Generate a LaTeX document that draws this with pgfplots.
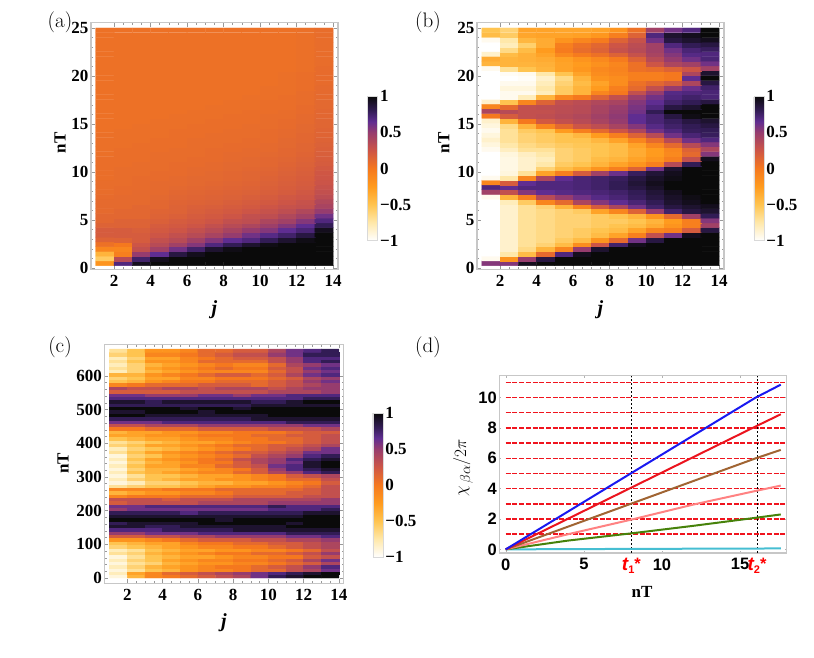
\documentclass[border=0pt]{standalone}
\usepackage{pgfplots}
\usepackage{fontspec}
\pgfplotsset{compat=1.18}
\newfontfamily\tfs{Liberation Serif}
\newfontfamily\tfa{Liberation Sans}
\newcommand{\bs}{\fontsize{17}{19}\selectfont\tfs\bfseries}
\newcommand{\ba}{\fontsize{16.5}{19}\selectfont\tfa\bfseries}
\pgfplotsset{
 hm/.style={scale only axis, clip=true,
  axis line style={draw=black!22,line width=1.1pt},
  tick style={draw=black!40,line width=0.5pt},
  tick align=inside, major tick length=4pt, minor tick length=2.2pt,
  xtick={2,4,6,8,10,12,14}, minor x tick num=3,
  tick label style={font=\bs},
  /pgf/number format/assume math mode=true,
  xticklabel style={yshift=-2pt},
  yticklabel style={xshift=1pt},
  label style={font=\fontsize{17}{19}\selectfont\tfs\bfseries},
  colormap={sunset}{rgb255(0pt)=(255,255,255); rgb255(25pt)=(255,232,170); rgb255(50pt)=(255,196,80); rgb255(75pt)=(255,155,30); rgb255(100pt)=(245,120,30); rgb255(125pt)=(205,85,70); rgb255(150pt)=(150,60,110); rgb255(165pt)=(95,45,145); rgb255(180pt)=(50,28,85); rgb255(200pt)=(10,10,10)},
  point meta min=-1, point meta max=1,
  colorbar,
 },
 cb/.style={colorbar style={scale only axis, width=10, height=144.5,
   at={(#1)}, anchor=south west,
   axis line style={draw=black!15,line width=0.5pt},
   ytick={-1,-0.5,0,0.5,1}, yticklabels={−1,−0.5,0,0.5,1},
   major tick length=0pt, xtick=\empty,
   yticklabel style={font=\bs,xshift=-1pt},
   /pgf/number format/assume math mode=true}},
 cell/.style={matrix plot*, mesh/cols=13, point meta=\thisrow{v}},
}
\begin{document}
\begin{tikzpicture}[x=1pt,y=1pt]
\path[use as bounding box] (0,0) rectangle (814,657);
% ---------- (a)
\begin{axis}[hm, cb={1.12,0.116}, at={(91pt,387.7pt)}, anchor=south west, width=247, height=246.6,
 xmin=0.74,xmax=14.27,ymin=-0.135,ymax=25.55, ytick={0,5,...,25}, minor y tick num=4,
 xlabel={\fontsize{20}{22}\selectfont\textit{j}}, ylabel={nT},
 xlabel style={at={(axis description cs:0.5,-0.165)},anchor=center},
 ylabel style={at={(axis description cs:-0.125,0.512)},anchor=center}]
\addplot[cell] table[row sep=\\, x expr={mod(\coordindex,13)+1.5}, y expr={0.25+0.495*(floor((\coordindex+0.5)/13)+0.5)}]{v\\
-.2\\.7\\.95\\1\\1\\1\\1\\1\\1\\1\\1\\1\\1\\
-.55\\.35\\.75\\.95\\1\\1\\1\\1\\1\\1\\1\\1\\1\\
-.4\\-.05\\.5\\.65\\.85\\.95\\1\\1\\1\\1\\1\\1\\1\\
-.1\\-.1\\.3\\.45\\.6\\.75\\.9\\.97\\1\\1\\1\\1\\1\\
.05\\0\\.25\\.35\\.45\\.55\\.7\\.8\\.9\\.97\\1\\1\\1\\
.15\\.15\\.2\\.3\\.35\\.45\\.55\\.65\\.7\\.8\\.9\\.97\\1\\
.2\\.2\\.2\\.25\\.3\\.35\\.42\\.5\\.6\\.68\\.75\\.85\\1\\
.2\\.2\\.18\\.22\\.25\\.3\\.35\\.42\\.5\\.55\\.65\\.72\\.95\\
.15\\.15\\.15\\.2\\.22\\.25\\.3\\.35\\.4\\.47\\.55\\.65\\.8\\
.12\\.15\\.15\\.17\\.2\\.22\\.25\\.3\\.32\\.4\\.45\\.55\\.7\\
.12\\.12\\.12\\.15\\.17\\.2\\.22\\.25\\.3\\.32\\.38\\.45\\.6\\
.1\\.12\\.12\\.14\\.15\\.18\\.2\\.22\\.25\\.28\\.32\\.38\\.5\\
.1\\.1\\.12\\.12\\.15\\.17\\.18\\.2\\.22\\.25\\.28\\.3\\.42\\
.1\\.1\\.1\\.12\\.14\\.15\\.16\\.18\\.2\\.22\\.25\\.28\\.38\\
.09\\.1\\.1\\.11\\.13\\.14\\.15\\.16\\.18\\.2\\.23\\.25\\.33\\
.08\\.09\\.1\\.1\\.12\\.13\\.14\\.15\\.16\\.18\\.2\\.23\\.3\\
.08\\.09\\.09\\.1\\.11\\.12\\.13\\.14\\.15\\.17\\.19\\.21\\.28\\
.08\\.08\\.09\\.1\\.1\\.11\\.12\\.13\\.14\\.16\\.18\\.2\\.26\\
.07\\.08\\.09\\.09\\.1\\.11\\.11\\.12\\.13\\.15\\.17\\.19\\.25\\
.07\\.08\\.08\\.09\\.09\\.1\\.11\\.12\\.13\\.14\\.16\\.18\\.24\\
.07\\.08\\.08\\.08\\.09\\.1\\.1\\.11\\.12\\.13\\.15\\.17\\.22\\
.07\\.07\\.08\\.08\\.09\\.09\\.1\\.11\\.11\\.12\\.14\\.16\\.2\\
.07\\.07\\.07\\.08\\.08\\.09\\.09\\.1\\.11\\.12\\.13\\.15\\.19\\
.06\\.07\\.07\\.08\\.08\\.08\\.09\\.1\\.1\\.11\\.12\\.14\\.18\\
.06\\.07\\.07\\.07\\.08\\.08\\.09\\.09\\.1\\.1\\.12\\.13\\.17\\
.06\\.06\\.07\\.07\\.07\\.08\\.08\\.09\\.09\\.1\\.11\\.13\\.16\\
.06\\.06\\.06\\.07\\.07\\.08\\.08\\.08\\.09\\.09\\.11\\.12\\.15\\
.06\\.06\\.06\\.06\\.07\\.07\\.08\\.08\\.08\\.09\\.1\\.12\\.14\\
.05\\.06\\.06\\.06\\.07\\.07\\.07\\.08\\.08\\.09\\.1\\.11\\.14\\
.05\\.05\\.06\\.06\\.06\\.07\\.07\\.07\\.08\\.08\\.09\\.11\\.13\\
.05\\.05\\.05\\.06\\.06\\.06\\.07\\.07\\.07\\.08\\.09\\.1\\.13\\
.05\\.05\\.05\\.05\\.06\\.06\\.06\\.07\\.07\\.08\\.08\\.1\\.12\\
.05\\.05\\.05\\.05\\.05\\.06\\.06\\.06\\.07\\.07\\.08\\.09\\.12\\
.05\\.05\\.05\\.05\\.05\\.05\\.06\\.06\\.06\\.07\\.07\\.09\\.11\\
.05\\.05\\.05\\.05\\.05\\.05\\.05\\.06\\.06\\.07\\.07\\.08\\.11\\
.05\\.05\\.05\\.05\\.05\\.05\\.05\\.05\\.06\\.06\\.07\\.08\\.1\\
.05\\.05\\.05\\.05\\.05\\.05\\.05\\.05\\.05\\.06\\.06\\.08\\.1\\
.05\\.05\\.05\\.05\\.05\\.05\\.05\\.05\\.05\\.06\\.06\\.07\\.1\\
.05\\.05\\.05\\.05\\.05\\.05\\.05\\.05\\.05\\.05\\.06\\.07\\.09\\
.05\\.05\\.05\\.05\\.05\\.05\\.05\\.05\\.05\\.05\\.06\\.07\\.09\\
.05\\.05\\.05\\.05\\.05\\.05\\.05\\.05\\.05\\.05\\.06\\.07\\.09\\
.05\\.05\\.05\\.05\\.05\\.05\\.05\\.05\\.05\\.05\\.05\\.06\\.09\\
.05\\.05\\.05\\.05\\.05\\.05\\.05\\.05\\.05\\.05\\.05\\.06\\.08\\
.05\\.05\\.05\\.05\\.05\\.05\\.05\\.05\\.05\\.05\\.05\\.06\\.08\\
.05\\.05\\.05\\.05\\.05\\.05\\.05\\.05\\.05\\.05\\.05\\.06\\.08\\
.05\\.05\\.05\\.05\\.05\\.05\\.05\\.05\\.05\\.05\\.05\\.06\\.08\\
.05\\.05\\.05\\.05\\.05\\.05\\.05\\.05\\.05\\.05\\.05\\.06\\.08\\
.05\\.05\\.05\\.05\\.05\\.05\\.05\\.05\\.05\\.05\\.05\\.06\\.08\\
.05\\.05\\.05\\.05\\.05\\.05\\.05\\.05\\.05\\.05\\.05\\.06\\.08\\
.05\\.05\\.05\\.05\\.05\\.05\\.05\\.05\\.05\\.05\\.05\\.06\\.08\\
};
\end{axis}
% ---------- (b)
\begin{axis}[hm, cb={1.121,0.116}, at={(477pt,387.7pt)}, anchor=south west, width=247, height=246.6,
 xmin=0.74,xmax=14.27,ymin=-0.135,ymax=25.55, ytick={0,5,...,25}, minor y tick num=4,
 xlabel={\fontsize{20}{22}\selectfont\textit{j}}, ylabel={nT},
 xlabel style={at={(axis description cs:0.5,-0.165)},anchor=center},
 ylabel style={at={(axis description cs:-0.134,0.512)},anchor=center}]
\addplot[cell] table[row sep=\\, x expr={mod(\coordindex,13)+1.5}, y expr={0.25+0.495*(floor((\coordindex+0.5)/13)+0.5)}]{v\\
.55\\.55\\.95\\1\\1\\1\\1\\1\\1\\1\\1\\1\\1\\
-.95\\-.2\\.5\\.85\\1\\1\\1\\1\\1\\1\\1\\1\\1\\
-1\\-.75\\-.45\\.1\\.7\\.95\\1\\1\\1\\1\\1\\1\\1\\
-1\\-.85\\-.65\\-.4\\-.1\\.5\\.9\\1\\1\\1\\1\\1\\1\\
-1\\-.85\\-.7\\-.6\\-.45\\-.15\\.25\\.75\\.95\\1\\1\\1\\1\\
-1\\-.85\\-.7\\-.65\\-.55\\-.45\\-.2\\.1\\.6\\.85\\1\\1\\1\\
-1\\-.85\\-.7\\-.65\\-.6\\-.55\\-.45\\-.3\\-.05\\.3\\.6\\.95\\1\\
-1\\-.85\\-.7\\-.65\\-.6\\-.55\\-.5\\-.45\\-.3\\-.1\\-.05\\.2\\.85\\
-1\\-.85\\-.7\\-.65\\-.6\\-.6\\-.55\\-.5\\-.45\\-.35\\-.2\\-.05\\.45\\
-1\\-.85\\-.7\\-.65\\-.6\\-.6\\-.55\\-.55\\-.5\\-.4\\-.25\\-.05\\.55\\
-1\\-.85\\-.7\\-.65\\-.6\\-.6\\-.55\\-.5\\-.4\\-.2\\.1\\.45\\.8\\
-1\\-.85\\-.7\\-.65\\-.6\\-.55\\-.3\\-.1\\.15\\.5\\.75\\.85\\.9\\
-1\\-.85\\-.7\\-.6\\-.4\\-.1\\.2\\.4\\.6\\.75\\.85\\.9\\.95\\
-1\\-.8\\-.55\\-.1\\.1\\.4\\.55\\.65\\.72\\.8\\.9\\.95\\1\\
-.95\\-.4\\-.05\\.35\\.5\\.6\\.68\\.72\\.78\\.85\\.92\\.97\\1\\
.45\\.3\\.55\\.65\\.68\\.7\\.72\\.75\\.8\\.88\\.95\\1\\1\\
.7\\.65\\.7\\.7\\.7\\.72\\.75\\.8\\.85\\.92\\1\\1\\1\\
-.1\\.2\\.65\\.7\\.7\\.72\\.75\\.8\\.88\\.95\\1\\1\\1\\
-.95\\-.75\\-.1\\.4\\.65\\.72\\.75\\.78\\.85\\.92\\.97\\1\\1\\
-1\\-.9\\-.7\\-.3\\-.05\\.2\\.45\\.62\\.78\\.88\\.95\\1\\1\\
-1\\-.92\\-.85\\-.6\\-.45\\-.35\\-.2\\-.05\\.15\\.6\\.9\\1\\1\\
-1\\-.92\\-.85\\-.75\\-.55\\-.5\\-.4\\-.3\\-.2\\-.05\\.35\\.8\\1\\
-1\\-.92\\-.85\\-.8\\-.6\\-.55\\-.45\\-.4\\-.3\\-.2\\-.05\\.3\\.95\\
-1\\-.9\\-.82\\-.75\\-.6\\-.55\\-.5\\-.45\\-.35\\-.25\\-.12\\.1\\.55\\
-.95\\-.82\\-.7\\-.7\\-.6\\-.55\\-.5\\-.45\\-.35\\-.25\\-.1\\.15\\.4\\
-.9\\-.75\\-.65\\-.6\\-.55\\-.52\\-.5\\-.45\\-.3\\-.1\\.1\\.35\\.55\\
-.85\\-.7\\-.6\\-.55\\-.5\\-.5\\-.42\\-.3\\-.1\\.1\\.35\\.6\\.7\\
-.9\\-.7\\-.6\\-.55\\-.5\\-.42\\-.25\\-.05\\.15\\.35\\.6\\.72\\.78\\
-.95\\-.7\\-.55\\-.5\\-.25\\-.05\\.1\\.25\\.4\\.6\\.7\\.78\\.8\\
-.9\\-.65\\-.4\\-.1\\.1\\.25\\.32\\.42\\.55\\.68\\.75\\.8\\.85\\
-.85\\-.4\\0\\.22\\.3\\.35\\.42\\.5\\.65\\.72\\.78\\.85\\.9\\
0\\.2\\.3\\.32\\.35\\.38\\.45\\.52\\.65\\.72\\.85\\.97\\1\\
.4\\.35\\.3\\.3\\.33\\.35\\.42\\.5\\.6\\.8\\1\\1\\1\\
-.1\\.1\\.3\\.32\\.33\\.35\\.42\\.48\\.58\\.7\\.85\\.9\\1\\
-.85\\-.5\\-.1\\.15\\.3\\.33\\.38\\.42\\.55\\.65\\.75\\.8\\.85\\
-1\\-.95\\-.8\\-.4\\-.1\\0\\.15\\.3\\.48\\.6\\.7\\.75\\.72\\
-1\\-.95\\-.95\\-.8\\-.55\\-.4\\-.1\\0\\.3\\.5\\.68\\.7\\.72\\
-1\\-.9\\-.9\\-.75\\-.55\\-.4\\-.25\\-.05\\.1\\.3\\.5\\.62\\.75\\
-1\\-.95\\-.95\\-.8\\-.6\\-.45\\-.3\\-.15\\.05\\.12\\.2\\.4\\.85\\
-1\\-1\\-.98\\-.85\\-.65\\-.4\\-.2\\-.15\\-.05\\-.05\\0\\.65\\1\\
-1\\-.97\\-.95\\-.75\\-.5\\-.3\\-.15\\-.1\\-.05\\-.05\\0\\.4\\.9\\
-.95\\-.7\\-.5\\-.4\\-.3\\-.22\\-.12\\-.08\\.05\\.08\\.15\\.25\\.45\\
-.4\\-.4\\-.4\\-.38\\-.3\\-.25\\-.18\\-.1\\.05\\.25\\.4\\.45\\.6\\
-.35\\-.4\\-.38\\-.35\\-.28\\-.2\\-.12\\-.02\\.15\\.35\\.5\\.6\\.72\\
-.85\\-.45\\-.38\\-.3\\-.12\\-.02\\.05\\.15\\.28\\.42\\.55\\.68\\.7\\
-1\\-.65\\-.45\\-.25\\-.02\\.08\\.15\\.28\\.35\\.45\\.6\\.72\\.78\\
-1\\-.8\\-.58\\-.35\\-.05\\.05\\.12\\.25\\.33\\.45\\.7\\.8\\.85\\
-.95\\-.75\\-.42\\-.35\\-.2\\-.1\\-.02\\.15\\.28\\.6\\.85\\.9\\.95\\
-.45\\-.55\\-.32\\-.3\\-.3\\-.28\\-.22\\-.05\\.15\\.7\\.9\\.95\\1\\
-.5\\-.6\\-.3\\-.3\\-.32\\-.32\\-.3\\-.2\\.05\\.45\\.6\\.7\\1\\
};
\end{axis}
% ---------- (c)
\begin{axis}[hm, cb={1.122,0.109}, at={(104.3pt,73.7pt)}, anchor=south west, width=239.4, height=239,
 xmin=0.694,xmax=14.27,ymin=-15.7,ymax=694, ytick={0,100,...,600}, minor y tick num=4,
 xlabel={\fontsize{20}{22}\selectfont\textit{j}}, ylabel={nT},
 xlabel style={at={(axis description cs:0.5,-0.166)},anchor=center},
 ylabel style={at={(axis description cs:-0.172,0.503)},anchor=center}]
\addplot[cell] table[row sep=\\, x expr={mod(\coordindex,13)+1.5}, y expr={5+10*floor((\coordindex+0.5)/13)}]{v\\
-.9\\-.4\\-.1\\0\\.1\\.2\\.3\\.4\\.6\\.8\\.9\\1\\1\\
-.8\\-.3\\-.1\\.1\\.2\\.3\\.4\\.5\\.6\\.7\\.8\\.9\\1\\
-.9\\-.7\\-.5\\-.4\\-.2\\-.1\\-.1\\0\\.1\\.1\\.3\\.4\\.6\\
-.8\\-.6\\-.4\\-.3\\-.2\\-.1\\0\\0\\.1\\.2\\.3\\.5\\.7\\
-.9\\-.7\\-.6\\-.4\\-.3\\-.2\\-.2\\-.1\\-.1\\0\\.1\\.2\\.4\\
-.8\\-.6\\-.5\\-.3\\-.2\\-.1\\-.1\\0\\0\\.1\\.2\\.4\\.6\\
-.9\\-.7\\-.5\\-.4\\-.3\\-.3\\-.2\\-.1\\-.1\\0\\0\\.2\\.3\\
-.7\\-.6\\-.4\\-.3\\-.2\\-.1\\0\\0\\.1\\.1\\.2\\.3\\.5\\
-.8\\-.7\\-.5\\-.4\\-.3\\-.3\\-.2\\-.2\\-.1\\-.1\\0\\.1\\.3\\
-.6\\-.5\\-.4\\-.3\\-.2\\-.1\\-.1\\0\\0\\.1\\.2\\.3\\.4\\
-.5\\-.4\\-.3\\-.3\\-.1\\0\\0\\.1\\.1\\.2\\.2\\.3\\.4\\
-.2\\-.2\\-.1\\0\\.1\\.2\\.2\\.2\\.3\\.3\\.4\\.4\\.5\\
.2\\.2\\.3\\.3\\.4\\.4\\.5\\.5\\.5\\.5\\.6\\.6\\.7\\
.5\\.5\\.6\\.6\\.6\\.7\\.7\\.7\\.7\\.7\\.8\\.8\\.8\\
.7\\.7\\.7\\.8\\.8\\.8\\.8\\.9\\.9\\.9\\.9\\.9\\.9\\
.9\\.9\\.8\\.8\\.9\\.9\\.9\\.9\\.9\\.9\\1\\1\\1\\
.8\\.9\\.9\\.9\\.9\\1\\1\\1\\1\\1\\.9\\1\\1\\
1\\1\\1\\1\\1\\1\\.9\\1\\1\\1\\1\\1\\1\\
.9\\.9\\.9\\.9\\.9\\.9\\.9\\.9\\.9\\.9\\.9\\1\\1\\
.8\\.8\\.8\\.8\\.7\\.8\\.8\\.8\\.8\\.8\\.8\\.9\\.9\\
.5\\.6\\.6\\.6\\.6\\.6\\.6\\.6\\.6\\.7\\.7\\.7\\.8\\
.6\\.6\\.7\\.7\\.7\\.7\\.7\\.7\\.7\\.8\\.7\\.7\\.7\\
.2\\.3\\.3\\.3\\.3\\.4\\.4\\.4\\.4\\.5\\.5\\.5\\.5\\
.3\\.3\\.3\\.2\\.3\\.3\\.3\\.4\\.4\\.4\\.4\\.4\\.5\\
-.1\\0\\0\\0\\.1\\.1\\.1\\.2\\.2\\.2\\.2\\.3\\.3\\
-.4\\-.3\\-.2\\-.2\\-.1\\-.1\\0\\.1\\.1\\.1\\.2\\.2\\.3\\
-.1\\-.1\\-.1\\0\\0\\0\\.1\\.1\\.1\\.1\\.1\\.2\\.3\\
-.7\\-.6\\-.5\\-.5\\-.4\\-.3\\-.2\\-.2\\-.1\\-.1\\0\\.1\\.3\\
-.9\\-.8\\-.6\\-.6\\-.5\\-.4\\-.4\\-.3\\-.3\\-.2\\-.1\\0\\.2\\
-.8\\-.6\\-.5\\-.4\\-.3\\-.3\\-.2\\-.2\\-.1\\0\\.1\\.1\\.3\\
-.9\\-.7\\-.5\\-.5\\-.4\\-.3\\-.3\\-.2\\-.1\\0\\.2\\.3\\.4\\
-.8\\-.5\\-.4\\-.3\\-.2\\-.1\\-.1\\.1\\.2\\.4\\.5\\.7\\.8\\
-.9\\-.6\\-.4\\-.4\\-.3\\-.2\\-.1\\0\\.2\\.5\\.7\\.8\\.9\\
-.8\\-.5\\-.3\\-.3\\-.1\\-.1\\.1\\.2\\.3\\.6\\.7\\.9\\1\\
-.9\\-.6\\-.4\\-.3\\-.2\\0\\0\\.2\\.4\\.5\\.6\\.9\\1\\
-.8\\-.5\\-.3\\-.2\\-.1\\0\\.1\\.3\\.4\\.5\\.7\\.8\\.9\\
-.9\\-.6\\-.5\\-.3\\-.2\\-.1\\0\\.1\\.3\\.4\\.5\\.7\\.8\\
-.7\\-.5\\-.3\\-.2\\-.1\\0\\.1\\.2\\.2\\.3\\.4\\.6\\.6\\
-.8\\-.6\\-.5\\-.4\\-.3\\-.2\\-.1\\0\\.1\\.2\\.3\\.4\\.6\\
-.6\\-.5\\-.3\\-.3\\-.2\\-.1\\0\\.1\\.1\\.2\\.2\\.3\\.4\\
-.7\\-.6\\-.5\\-.4\\-.3\\-.3\\-.2\\-.1\\0\\0\\.1\\.2\\.3\\
-.5\\-.4\\-.3\\-.3\\-.2\\-.1\\-.1\\0\\0\\.1\\.1\\.2\\.3\\
-.3\\-.3\\-.2\\-.2\\-.1\\0\\0\\0\\.1\\.1\\.2\\.2\\.3\\
-.4\\-.3\\-.3\\-.2\\-.2\\-.1\\-.1\\0\\0\\0\\.1\\.2\\.2\\
0\\0\\.1\\.1\\.1\\.2\\.2\\.2\\.2\\.3\\.3\\.3\\.4\\
.3\\.3\\.4\\.4\\.4\\.5\\.5\\.5\\.5\\.5\\.5\\.6\\.6\\
.6\\.6\\.6\\.7\\.7\\.7\\.7\\.7\\.7\\.7\\.8\\.8\\.8\\
.8\\.8\\.8\\.8\\.8\\.8\\.8\\.8\\.9\\.9\\.9\\.9\\.9\\
1\\1\\.9\\.9\\.9\\.9\\.9\\.9\\.9\\1\\1\\1\\1\\
.9\\.9\\1\\1\\1\\.9\\1\\1\\1\\1\\1\\1\\1\\
1\\1\\1\\1\\.9\\1\\1\\.9\\1\\1\\1\\1\\1\\
.8\\.8\\.8\\.8\\.8\\.8\\.8\\.8\\.9\\.9\\.9\\.9\\.9\\
.9\\.9\\.8\\.9\\.9\\.9\\.9\\.9\\.8\\.8\\.9\\1\\1\\
.7\\.7\\.7\\.7\\.7\\.7\\.7\\.7\\.7\\.7\\.7\\.8\\.8\\
.6\\.6\\.5\\.5\\.5\\.6\\.6\\.5\\.6\\.6\\.7\\.7\\.7\\
.2\\.2\\.2\\.2\\.3\\.3\\.3\\.3\\.3\\.4\\.4\\.4\\.5\\
.4\\.3\\.3\\.4\\.4\\.3\\.4\\.4\\.4\\.3\\.4\\.5\\.5\\
-.1\\0\\.1\\.1\\.1\\.2\\.2\\.2\\.1\\.2\\.3\\.4\\.5\\
-.5\\-.4\\-.2\\-.1\\0\\0\\.1\\.1\\.1\\.2\\.3\\.5\\.6\\
-.6\\-.5\\-.3\\-.3\\-.1\\-.1\\0\\0\\0\\.1\\.2\\.4\\.5\\
-.4\\-.4\\-.2\\-.1\\0\\.1\\.2\\.2\\.1\\.2\\.4\\.6\\.7\\
-.8\\-.6\\-.4\\-.3\\-.2\\-.1\\-.1\\-.1\\-.1\\.1\\.3\\.5\\.6\\
-.7\\-.6\\-.3\\-.2\\-.1\\0\\.1\\0\\0\\.2\\.3\\.6\\.7\\
-.8\\-.6\\-.4\\-.3\\-.2\\-.1\\0\\-.1\\-.1\\.1\\.4\\.5\\.6\\
-.7\\-.5\\-.2\\-.2\\-.1\\.1\\.1\\.1\\.1\\.3\\.5\\.7\\.8\\
-.8\\-.6\\-.3\\-.3\\-.1\\0\\.1\\.2\\.2\\.3\\.5\\.7\\.7\\
-.6\\-.5\\-.1\\-.1\\0\\.1\\.2\\.3\\.3\\.5\\.6\\.8\\.8\\
-.7\\-.5\\-.2\\-.2\\-.1\\.1\\.1\\.2\\.2\\.4\\.6\\.7\\.8\\
};
\end{axis}
% ---------- (d)
\begin{axis}[scale only axis, at={(499.3pt,104pt)}, anchor=south west, width=287.4, height=177.3,
 xmin=-0.41,xmax=17.98,ymin=-0.24,ymax=11.44, clip=true,
 axis line style={draw=black!22,line width=1.1pt},
 tick style={draw=black!30,line width=0.4pt}, tick align=inside, major tick length=2pt,
 xtick={0,5,8.04,10,15,16.08}, xticklabels={0,5,{\textcolor{red}{{\fontsize{19}{19}\selectfont\itshape t}\raisebox{-2.5pt}{\fontsize{11}{11}\selectfont 1}\raisebox{1pt}{*}}},10,15,{\textcolor{red}{{\fontsize{19}{19}\selectfont\itshape t}\raisebox{-2.5pt}{\fontsize{11}{11}\selectfont 2}\raisebox{1pt}{*}}}},
 ytick={0,2,...,10},
 tick label style={font=\ba}, /pgf/number format/assume math mode=true,
 xticklabel style={yshift=-2pt}, yticklabel style={xshift=1pt},
 xlabel={nT}, ylabel={$\chi_{\,\beta\alpha}/2\pi$},
 xlabel style={font=\fontsize{17}{19}\selectfont\tfs\bfseries,at={(axis description cs:0.497,-0.22)},anchor=center},
 ylabel style={font=\fontsize{19}{21}\selectfont,at={(axis description cs:-0.126,0.48)},anchor=center}]
\pgfplotsinvokeforeach{1,2,...,11}{\addplot[color={rgb,255:red,240;green,20;blue,30},line width=1.4pt,dash pattern=on 5pt off 1.7pt,forget plot] coordinates {(0,#1) (17.9,#1)};}
\addplot[black,line width=0.8pt,dash pattern=on 2.5pt off 1.5pt,forget plot] coordinates {(8.04,-0.24) (8.04,11.44)};
\addplot[black,line width=0.8pt,dash pattern=on 2.5pt off 1.5pt,forget plot] coordinates {(16.08,-0.24) (16.08,11.44)};
\addplot[color={rgb,255:red,70;green,190;blue,210},line width=2pt] coordinates {(0,0) (8,0.03) (17.6,0.06)};
\addplot[color={rgb,255:red,70;green,130;blue,10},line width=2pt] coordinates {(0,0) (4,0.58) (8,1.05) (12,1.55) (16,2.08) (17.6,2.3)};
\addplot[color={rgb,255:red,255;green,130;blue,130},line width=2pt] coordinates {(0,0) (4,1) (8,1.95) (12,2.95) (16,3.85) (17.6,4.2)};
\addplot[color={rgb,255:red,160;green,100;blue,50},line width=2pt] coordinates {(0,0) (8,3) (16,6) (17.6,6.55)};
\addplot[color={rgb,255:red,235;green,20;blue,30},line width=2pt] coordinates {(0,0) (8,4.05) (16,8.1) (17.6,8.9)};
\addplot[color={rgb,255:red,25;green,25;blue,240},line width=2pt] coordinates {(0,0) (8,5) (16,10) (17.6,10.85)};
\end{axis}
\node[font=\fontsize{21}{23}\selectfont] at (60,635) {(a)};
\node[font=\fontsize{21}{23}\selectfont] at (428,635) {(b)};
\node[font=\fontsize{21}{23}\selectfont] at (60,310) {(c)};
\node[font=\fontsize{21}{23}\selectfont] at (428,310) {(d)};
\end{tikzpicture}
\end{document}
